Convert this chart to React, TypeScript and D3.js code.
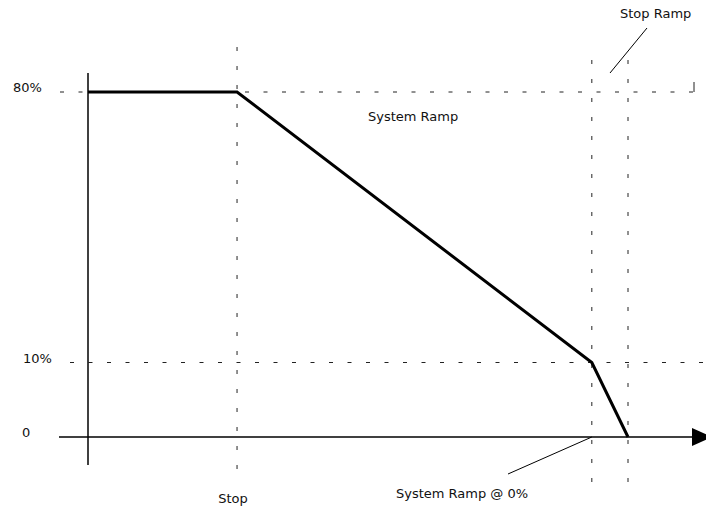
import React from "react";
import * as d3 from "d3";

// Schematic ramp profile: time (arbitrary units) vs speed (%)
const times = [0, 2.76, 9.33, 10];
const speeds = [80, 80, 10, 0];
const yLevels = [0, 10, 80];
const yLabels = ["0", "10%", "80%"];
const markerTimes = [2.76, 9.33, 10];

const W = 706;
const H = 508;

export default function App() {
  const x = d3.scaleLinear().domain([0, 10]).range([88, 628]);
  const y = d3.scaleLinear().domain(yLevels).range([437, 362.5, 92]);

  const pts: [number, number][] = times.map((t, i) => [t, speeds[i]]);
  const line = d3
    .line<[number, number]>()
    .x((d) => x(d[0]))
    .y((d) => y(d[1]));

  const font = "'DejaVu Sans', sans-serif";
  const ax0 = x(0);
  const y0 = y(0);

  const labelX = [22, 23, 13];

  return (
    <svg
      width={W}
      height={H}
      style={{ position: "absolute", left: 0, top: 0, background: "#fff" }}
      fontFamily={font}
      fontSize={13}
    >
      {/* horizontal dashed guides */}
      <line x1={60} x2={W} y1={y(80)} y2={y(80)} stroke="#222" strokeWidth={1} strokeDasharray="4,14.5" />
      <line x1={70} x2={W} y1={y(10)} y2={y(10)} stroke="#222" strokeWidth={1} strokeDasharray="4,14.5" />
      {/* vertical dashed guides */}
      <line x1={x(markerTimes[0])} x2={x(markerTimes[0])} y1={47} y2={474} stroke="#222" strokeWidth={1} strokeDasharray="4,15" />
      <line x1={x(markerTimes[1])} x2={x(markerTimes[1])} y1={60} y2={485} stroke="#222" strokeWidth={1} strokeDasharray="4,15" />
      <line x1={x(markerTimes[2])} x2={x(markerTimes[2])} y1={60} y2={485} stroke="#222" strokeWidth={1} strokeDasharray="4,15" />
      {/* small tick near top right */}
      <line x1={694} x2={694} y1={82} y2={92} stroke="#222" strokeWidth={1} />

      {/* axes */}
      <line x1={ax0} x2={ax0} y1={73} y2={465} stroke="#000" strokeWidth={1.5} />
      <line x1={59} x2={694} y1={y0} y2={y0} stroke="#000" strokeWidth={1.5} />
      <polygon points={`692,${y0 - 9} 712,${y0} 692,${y0 + 9}`} fill="#000" />

      {/* profile */}
      <path d={line(pts) || ""} fill="none" stroke="#000" strokeWidth={3} strokeLinejoin="miter" />

      {/* y labels */}
      {yLevels.map((v, i) => (
        <text key={v} x={labelX[i]} y={y(v)} fill="#111">
          {yLabels[i]}
        </text>
      ))}

      {/* annotations */}
      <text x={368} y={121} fill="#111">System Ramp</text>
      <text x={x(markerTimes[0]) - 4} y={503} textAnchor="middle" fill="#111">Stop</text>
      <text x={620} y={18} fill="#111">Stop Ramp</text>
      <line x1={610} y1={73} x2={647} y2={28} stroke="#000" strokeWidth={1} />
      <text x={396} y={498} fill="#111">System Ramp @ 0%</text>
      <line x1={508} y1={474} x2={x(markerTimes[1])} y2={y0} stroke="#000" strokeWidth={1} />
    </svg>
  );
}
